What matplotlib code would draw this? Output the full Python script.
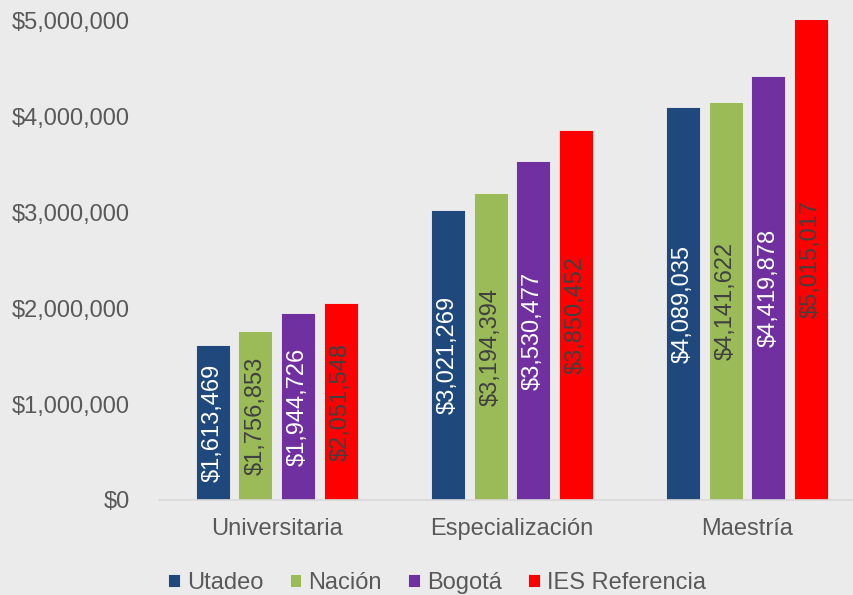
import matplotlib.pyplot as plt
import numpy as np

plt.rcParams["font.family"] = ["Liberation Sans", "DejaVu Sans"]

categories = ["Universitaria", "Especialización", "Maestría"]
series_names = ["Utadeo", "Nación", "Bogotá", "IES Referencia"]
utadeo = [1613469, 3021269, 4089035]
nacion = [1756853, 3194394, 4141622]
bogota = [1944726, 3530477, 4419878]
ies_ref = [2051548, 3850452, 5015017]
yticks = [0, 1000000, 2000000, 3000000, 4000000, 5000000]

colors = ["#1f497d", "#9bbb59", "#7030a0", "#ff0000"]
label_colors = ["white", "#404040", "white", "#404040"]
bg = "#ebebeb"
text_gray = "#595959"
fs = 17

fig = plt.figure(figsize=(8.54, 5.95), dpi=100, facecolor=bg)
# axes runs off the right edge like the original export
ax = fig.add_axes([159 / 854, 95 / 595, (854 - 159) / 854, 480 / 595])
ax.set_facecolor(bg)

x = np.arange(len(categories))
bar_w = 34 / 235.5
step = 42.7 / 235.5
for j, (name, vals) in enumerate(zip(series_names, [utadeo, nacion, bogota, ies_ref])):
    pos = x + (j - 1.5) * step
    ax.bar(pos, vals, width=bar_w, color=colors[j], edgecolor="#f2f2f2",
           linewidth=0.6, label=name)
    for p, v in zip(pos, vals):
        ax.text(p, v / 2, f"${v:,.0f}", rotation=90, ha="center", va="center",
                color=label_colors[j], fontsize=fs)

ax.set_xlim(-0.5, (854 - 276) / 235.5)
ax.set_ylim(0, 5000000)
ax.set_yticks(yticks)
ax.set_yticklabels([f"${t:,.0f}" for t in yticks])
ax.set_xticks(x)
ax.set_xticklabels(categories)
ax.tick_params(axis="both", length=0, labelsize=fs, colors=text_gray)
ax.tick_params(axis="y", pad=21)
ax.tick_params(axis="x", pad=13)

for s in ["top", "right", "left"]:
    ax.spines[s].set_visible(False)
ax.spines["bottom"].set_color("#d9d9d9")
ax.spines["bottom"].set_linewidth(1.2)

leg = fig.legend(loc="center", bbox_to_anchor=(437 / 854, 1 - 583 / 595), ncol=4,
                 frameon=False, fontsize=fs, handlelength=0.5, handleheight=0.5,
                 handletextpad=0.3, columnspacing=1.1, borderaxespad=0)
for t in leg.get_texts():
    t.set_color(text_gray)

fig.savefig("out.png", dpi=100, facecolor=bg)
